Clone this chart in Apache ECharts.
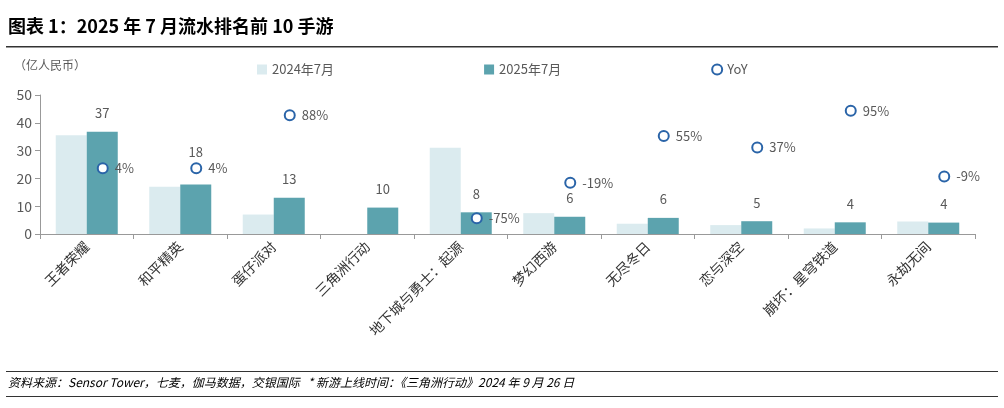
<!DOCTYPE html><html><head><meta charset="utf-8"><script src="https://cdn.jsdelivr.net/npm/echarts@6/dist/echarts.min.js"></script>
<style>body{margin:0;background:#fff}#c{width:1004px;height:408px}</style></head><body><div id="c"></div><script>
const categories=['王者荣耀','和平精英','蛋仔派对','三角洲行动','地下城与勇士：起源','梦幻西游','无尽冬日','恋与深空','崩坏：星穹铁道','永劫无间'];
const rev2024=[35.5,17,7,0,31,7.5,3.7,3.2,2,4.5];
const rev2025=[36.8,17.8,13,9.5,7.8,6.2,5.8,4.6,4.2,4.1];
const rev2025Labels=['37','18','13','10','8','6','6','5','4','4'];
const yoy=[4,4,88,null,-75,-19,55,37,95,-9];
const yTicks=[0,10,20,30,40,50];
const F='"Noto Sans CJK SC","Noto Sans",sans-serif';
const chart=echarts.init(document.getElementById('c'));
chart.setOption({
 animation:false,
 graphic:[
  {type:'text',left:8,top:17,style:{text:'图表 1：2025 年 7 月流水排名前 10 手游',font:'bold 18px '+F,fill:'#000'}},
  {type:'rect',shape:{x:6,y:46,width:992,height:1.5},style:{fill:'#333'}},
  {type:'text',left:14,top:59,style:{text:'（亿人民币）',font:'12px '+F,fill:'#595959'}},
  {type:'rect',shape:{x:6,y:371,width:992,height:1},style:{fill:'#333'}},
  {type:'text',left:8,top:376,style:{text:'资料来源：Sensor Tower，七麦，伽马数据，交银国际   * 新游上线时间：《三角洲行动》2024 年 9 月 26 日',font:'italic 12px '+F,fill:'#000'}},
  {type:'rect',shape:{x:6,y:396,width:992,height:1},style:{fill:'#333'}}
 ],
 legend:{top:58,left:252,itemGap:150,itemWidth:10,itemHeight:10,textStyle:{fontSize:13,color:'#595959',fontFamily:F},
  data:[{name:'2024年7月',icon:'rect'},{name:'2025年7月',icon:'rect'},{name:'YoY',icon:'circle'}]},
 grid:{left:40,right:29,top:95,bottom:174},
 xAxis:{type:'category',data:categories,axisLine:{lineStyle:{color:'#999'}},axisTick:{show:true,length:5,lineStyle:{color:'#999'}},
  axisLabel:{rotate:45,interval:0,fontSize:14,color:'#333',fontFamily:F,margin:10}},
 yAxis:[{type:'value',min:0,max:50,interval:10,splitLine:{show:false},axisLine:{show:true,lineStyle:{color:'#999'}},axisTick:{show:true,lineStyle:{color:'#999'}},
   axisLabel:{fontSize:14,color:'#595959',fontFamily:F}},
  {type:'value',min:-100,max:120,show:false,splitLine:{show:false}}],
 series:[
  {name:'2024年7月',type:'bar',data:rev2024,barWidth:31,barGap:'0%',itemStyle:{color:'#dbebef'}},
  {name:'2025年7月',type:'bar',data:rev2025.map((v,i)=>i===1?{value:v,label:{distance:26}}:v),barWidth:31,itemStyle:{color:'#5ca3ae'},
   label:{show:true,position:'top',distance:12,fontSize:13,color:'#595959',fontFamily:F,formatter:p=>rev2025Labels[p.dataIndex]}},
  {name:'YoY',type:'line',yAxisIndex:1,data:yoy,lineStyle:{width:0},symbol:'circle',symbolSize:10,symbolOffset:[16,0],
   itemStyle:{color:'#fff',borderColor:'#2a64a8',borderWidth:2},connectNulls:false,
   label:{show:true,position:'right',distance:6,fontSize:13,color:'#595959',fontFamily:F,formatter:p=>p.value+'%'}}
 ]
});
</script></body></html>
